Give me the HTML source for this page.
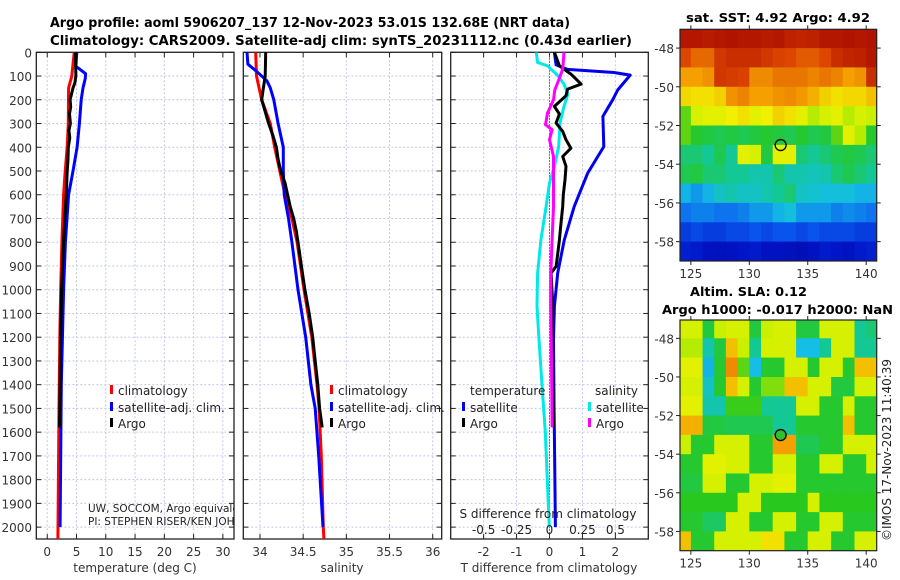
<!DOCTYPE html>
<html><head><meta charset="utf-8"><style>
html,body{margin:0;padding:0;background:#fff;}
svg{display:block;font-family:"DejaVu Sans","Liberation Sans",sans-serif;}
</style></head><body>
<svg id="c" width="900" height="580" viewBox="0 0 900 580" xmlns="http://www.w3.org/2000/svg">
<text x="50" y="27" textLength="520" lengthAdjust="spacingAndGlyphs" font-weight="bold" font-size="13">Argo profile: aoml 5906207_137 12-Nov-2023 53.01S 132.68E (NRT data)</text>
<text x="50" y="45" textLength="582" lengthAdjust="spacingAndGlyphs" font-weight="bold" font-size="13">Climatology: CARS2009. Satellite-adj clim: synTS_20231112.nc (0.43d earlier)</text>
<text x="686" y="22" textLength="184" lengthAdjust="spacingAndGlyphs" font-weight="bold" font-size="12">sat. SST: 4.92 Argo: 4.92</text>
<text x="690" y="296" textLength="117" lengthAdjust="spacingAndGlyphs" font-weight="bold" font-size="12">Altim. SLA: 0.12</text>
<text x="662" y="314" textLength="231" lengthAdjust="spacingAndGlyphs" font-weight="bold" font-size="12">Argo h1000: -0.017 h2000: NaN</text>
<text transform="translate(891,541) rotate(-90)" font-size="12" fill="#222">©IMOS 17-Nov-2023 11:40:39</text>
<g id="g"></g>
</svg>
<script>
// ---- depth axis ----
const depthTicks=[0,100,200,300,400,500,600,700,800,900,1000,1100,1200,1300,1400,1500,1600,1700,1800,1900,2000];
// ---- temperature panel ----
const tTicks=[0,5,10,15,20,25,30];
const tArgoDepth=[0,50,100,130,150,180,200,230,260,300,330,360,400,450,500,600,700,800,900,1000,1200,1400,1580];
const tArgo=[4.83,4.85,4.9,4.7,4.4,4.1,3.9,4.0,3.8,3.95,3.7,3.85,3.6,3.55,3.4,3.25,3.0,2.8,2.6,2.45,2.3,2.2,2.1];
const tClimDepth=[0,100,150,300,400,500,600,800,1000,1200,1500,1800,2050];
const tClim=[4.6,4.2,3.65,3.6,3.4,3.07,2.8,2.5,2.3,2.15,2.0,1.9,1.82];
const tSatDepth=[0,60,70,90,110,150,200,300,400,500,600,800,1000,1400,2000];
const tSat=[5.05,4.9,5.5,6.55,6.5,6.1,5.8,5.5,5.1,4.4,3.65,3.1,2.8,2.4,2.2];
// ---- salinity panel ----
const sTicks=[34,34.5,35,35.5,36];
const sArgoDepth=[0,100,150,200,250,300,350,400,450,500,550,600,650,700,750,800,900,1000,1100,1200,1300,1400,1500,1580];
const sArgo=[34.066,34.06,34.04,34.02,34.06,34.1,34.15,34.19,34.21,34.24,34.29,34.32,34.35,34.39,34.42,34.44,34.48,34.52,34.57,34.61,34.64,34.67,34.69,34.72];
const sClimDepth=[0,100,200,300,400,500,600,700,800,1000,1200,1400,1500,1700,2000,2050];
const sClim=[33.95,33.96,34.02,34.12,34.17,34.23,34.29,34.37,34.43,34.51,34.6,34.66,34.685,34.71,34.733,34.74];
const sSatDepth=[0,50,80,120,150,200,300,400,500,600,700,800,1000,1200,1400,1500,1700,2000];
const sSat=[33.85,33.86,33.96,34.08,34.12,34.16,34.21,34.27,34.27,34.28,34.33,34.37,34.44,34.53,34.59,34.64,34.68,34.73];
// ---- difference panel ----
const dTTicks=[-2,-1,0,1,2];
const dSTicks=[-0.5,-0.25,0,0.25,0.5];
const dSTickLabels=["-0.5","-0.25","0","0.25","0.5"];
const dTSatDepth=[0,53,72,85,96,159,200,270,397,509,650,790,930,1070,1210,1500,2000];
const dTSat=[0.15,0.2,0.55,1.96,2.45,2.07,1.92,1.62,1.65,1.16,0.75,0.45,0.25,0.15,0.12,0.14,0.18];
const dTArgoDepth=[0,57,92,134,155,183,228,260,298,333,368,404,439,480,537,600,650,720,790,850,902,930,1070,1210,1400,1580];
const dTArgo=[0.15,0.3,0.65,0.96,0.55,0.5,0.15,0.3,0.2,0.4,0.5,0.65,0.4,0.5,0.47,0.42,0.4,0.35,0.3,0.25,0.2,0.05,0.1,0.1,0.11,0.12];
const dSSatDepth=[0,43,57,96,134,176,228,298,397,481,551,650,790,930,1070,1210,1400,1600,2000];
const dSSat=[-0.1,-0.09,-0.015,0.06,0.11,0.14,0.11,0.08,0.07,0.037,0,-0.026,-0.065,-0.09,-0.095,-0.08,-0.057,-0.032,-0.0015];
const dSArgoDepth=[0,71,117,159,200,256,305,326,368,439,551,650,790,930,1070,1300,1580];
const dSArgo=[0.11,0.1,0.07,0.04,0.03,-0.015,-0.03,0.02,0,0.03,0.03,0.03,0.02,0.01,0.01,0.015,0.02];
// ---- maps (rows from -47 to -59 lat, cols from 124 to 141 lon, 1 deg cells) ----
const mapLatTicks=[-48,-50,-52,-54,-56,-58];
const mapLonTicks=[125,130,135,140];
const sstGrid=[
[0.95,0.95,0.94,0.95,0.96,0.95,0.95,0.94,0.95,0.93,0.92,0.93,0.95,0.95,0.96,0.95,0.96],
[0.85,0.8,0.8,0.88,0.9,0.9,0.9,0.88,0.86,0.85,0.82,0.82,0.85,0.9,0.92,0.93,0.95],
[0.72,0.72,0.74,0.88,0.87,0.86,0.75,0.75,0.78,0.78,0.78,0.76,0.78,0.76,0.72,0.74,0.9],
[0.65,0.64,0.64,0.66,0.74,0.76,0.72,0.72,0.74,0.75,0.73,0.7,0.66,0.64,0.65,0.65,0.68],
[0.5,0.58,0.6,0.6,0.62,0.64,0.6,0.62,0.66,0.64,0.6,0.55,0.58,0.6,0.55,0.58,0.56],
[0.5,0.46,0.45,0.44,0.45,0.44,0.45,0.46,0.45,0.44,0.46,0.44,0.45,0.5,0.6,0.55,0.46],
[0.42,0.42,0.4,0.44,0.4,0.6,0.58,0.45,0.6,0.6,0.42,0.4,0.42,0.44,0.45,0.44,0.42],
[0.44,0.45,0.42,0.42,0.4,0.4,0.38,0.38,0.42,0.38,0.38,0.37,0.38,0.42,0.44,0.42,0.4],
[0.32,0.3,0.32,0.36,0.38,0.36,0.36,0.38,0.4,0.42,0.36,0.35,0.34,0.34,0.34,0.32,0.32],
[0.27,0.28,0.28,0.27,0.27,0.28,0.3,0.3,0.32,0.34,0.3,0.3,0.3,0.28,0.29,0.28,0.27],
[0.2,0.22,0.2,0.2,0.22,0.22,0.24,0.22,0.24,0.24,0.22,0.24,0.22,0.22,0.22,0.2,0.2],
[0.15,0.14,0.12,0.11,0.12,0.13,0.14,0.12,0.12,0.11,0.1,0.12,0.14,0.13,0.12,0.14,0.15]];
const slaGrid=[
[0.58,0.58,0.45,0.56,0.58,0.58,0.45,0.56,0.58,0.58,0.45,0.45,0.58,0.58,0.58,0.4,0.42],
[0.55,0.55,0.38,0.45,0.68,0.56,0.4,0.58,0.58,0.58,0.33,0.33,0.4,0.58,0.58,0.4,0.4],
[0.6,0.6,0.32,0.46,0.75,0.5,0.33,0.46,0.46,0.58,0.58,0.46,0.58,0.58,0.46,0.68,0.68],
[0.58,0.58,0.36,0.46,0.68,0.58,0.46,0.52,0.52,0.68,0.68,0.58,0.58,0.45,0.45,0.58,0.58],
[0.6,0.6,0.38,0.38,0.48,0.48,0.48,0.4,0.4,0.4,0.58,0.58,0.46,0.46,0.58,0.46,0.46],
[0.7,0.7,0.45,0.45,0.44,0.44,0.44,0.44,0.4,0.4,0.46,0.46,0.46,0.46,0.68,0.46,0.46],
[0.56,0.46,0.46,0.58,0.58,0.58,0.46,0.46,0.72,0.72,0.44,0.44,0.46,0.46,0.58,0.58,0.58],
[0.46,0.46,0.6,0.6,0.58,0.58,0.46,0.46,0.58,0.58,0.46,0.46,0.58,0.58,0.46,0.46,0.58],
[0.45,0.45,0.58,0.58,0.46,0.46,0.58,0.58,0.6,0.6,0.46,0.46,0.46,0.46,0.46,0.46,0.46],
[0.47,0.47,0.47,0.47,0.47,0.58,0.58,0.47,0.47,0.47,0.47,0.58,0.47,0.47,0.47,0.47,0.47],
[0.46,0.46,0.43,0.43,0.58,0.58,0.46,0.46,0.58,0.58,0.46,0.46,0.58,0.58,0.46,0.46,0.46],
[0.68,0.46,0.46,0.58,0.58,0.58,0.58,0.64,0.64,0.46,0.46,0.58,0.58,0.46,0.46,0.58,0.58]];
const argoLon=132.68, argoLat=-53.01;

const NS="http://www.w3.org/2000/svg";
const G=document.getElementById('g');
function mk(tag,attrs,parent){const e=document.createElementNS(NS,tag);for(const k in attrs)e.setAttribute(k,attrs[k]);(parent||G).appendChild(e);return e;}
const yTop=52.3, yBot=539, dMax=2050;
const yD=d=>yTop+(d/dMax)*(yBot-yTop);
function lin(d0,d1,r0,r1){return v=>r0+(v-d0)/(d1-d0)*(r1-r0);}
const panels=[
 {x0:36.3,x1:234,sc:lin(-1.87,31.9,36.3,234),ticks:tTicks,name:'temperature-panel'},
 {x0:243.3,x1:441.7,sc:lin(33.807,36.104,243.3,441.7),ticks:sTicks,name:'salinity-panel'},
 {x0:450.7,x1:648.3,sc:lin(-3,3,450.7,648.3),ticks:dTTicks,name:'difference-panel'}];
panels.forEach((p,i)=>{
 const grp=mk('g',{});
 
 
 const cp=mk('clipPath',{id:'cp'+i},grp);mk('rect',{x:p.x0,y:yTop,width:p.x1-p.x0,height:yBot-yTop},cp);
 depthTicks.forEach(d=>{const l=mk('line',{x1:p.x0,x2:p.x1,y1:yD(d),y2:yD(d),stroke:'#c4c8e6','stroke-width':1,'stroke-dasharray':'2,2'},grp);
  
  mk('line',{x1:p.x0,x2:p.x0+5,y1:yD(d),y2:yD(d),stroke:'#222'},grp);mk('line',{x1:p.x1-5,x2:p.x1,y1:yD(d),y2:yD(d),stroke:'#222'},grp);});
 p.ticks.forEach(t=>{const x=p.sc(t);const l=mk('line',{x1:x,x2:x,y1:yTop,y2:yBot,stroke:'#c4c8e6','stroke-width':1,'stroke-dasharray':'2,2'},grp);
  
  mk('line',{x1:x,x2:x,y1:yBot,y2:yBot-5,stroke:'#222'},grp);mk('line',{x1:x,x2:x,y1:yTop,y2:yTop+5,stroke:'#222'},grp);
  const tx=mk('text',{x:x,y:556,'text-anchor':'middle','font-size':12,fill:'#333'},grp);tx.textContent=String(t);
  });
 const fr=mk('rect',{x:p.x0,y:yTop,width:p.x1-p.x0,height:yBot-yTop,fill:'none',stroke:'#222','stroke-width':1.3},grp);
 
 p.grp=grp;
});
depthTicks.forEach(d=>{const t=mk('text',{x:32,y:yD(d)+5,'text-anchor':'end','font-size':12,fill:'#333'});t.textContent=String(d);
 });
[['temperature (deg C)',135,'temperature-axis-title'],['salinity',342,'salinity-axis-title'],['T difference from climatology',549,'t-difference-axis-title']].forEach(a=>{
 const t=mk('text',{x:a[1],y:572,'text-anchor':'middle','font-size':12,fill:'#333'});t.textContent=a[0];
 });

function line(pi,sc,depths,vals,color,w,name,dash){
 const pts=depths.map((d,i)=>sc(vals[i]).toFixed(1)+','+yD(d).toFixed(1)).join(' ');
 const a={points:pts,fill:'none',stroke:color,'stroke-width':w,'stroke-linejoin':'round','clip-path':'url(#cp'+pi+')'};
 if(dash)a['stroke-dasharray']=dash;
 const pl=mk('polyline',a,panels[pi].grp);
 }
const p0=panels[0].sc,p1=panels[1].sc,p2=panels[2].sc,pS=v=>p2(v*4);
line(0,p0,tClimDepth,tClim,'#ff0000',3,'temperature-climatology-line');
line(0,p0,tSatDepth,tSat,'#0000ff',3,'temperature-satellite-line');
line(0,p0,tArgoDepth,tArgo,'#000',3,'temperature-argo-line');
line(1,p1,sClimDepth,sClim,'#ff0000',3,'salinity-climatology-line');
line(1,p1,sSatDepth,sSat,'#0000ff',3,'salinity-satellite-line');
line(1,p1,sArgoDepth,sArgo,'#000',3,'salinity-argo-line');
line(2,p2,[0,2050],[0,0],'#555',1,'zero-reference-line','1.5,1.5');
line(2,pS,dSSatDepth,dSSat,'#00e8e8',3,'salinity-satellite-difference-line');
line(2,p2,dTSatDepth,dTSat,'#0000ee',3,'temperature-satellite-difference-line');
line(2,p2,dTArgoDepth,dTArgo,'#000',3,'temperature-argo-difference-line');
line(2,pS,dSArgoDepth,dSArgo,'#ff00ff',3,'salinity-argo-difference-line');

// legends
function legend(x,y,color,label,name){const r=mk('rect',{x:x,y:y-7,width:3,height:9,fill:color});
 
 const t=mk('text',{x:x+8,y:y+3,'font-size':12,fill:'#222'});t.textContent=label;
 return t;}
[[110,0],[330,1]].forEach(([x,pi])=>{
 legend(x,392,'#ff0000','climatology','legend-climatology');
 legend(x,409,'#0000ff','satellite-adj. clim.','legend-satellite-adj');
 legend(x,425,'#000','Argo','legend-argo');});
const tl=mk('text',{x:470,y:395,'font-size':12,fill:'#222'});tl.textContent='temperature';

const sl=mk('text',{x:595,y:395,'font-size':12,fill:'#222'});sl.textContent='salinity';

legend(462,409,'#0000ff','satellite','legend-temperature-satellite');
legend(462,425,'#000','Argo','legend-temperature-argo');
legend(588,409,'#00e8e8','satellite','legend-salinity-satellite');
legend(588,425,'#ff00ff','Argo','legend-salinity-argo');
// notes in T panel
const n1=mk('text',{x:88,y:512,'font-size':10.5,fill:'#222','clip-path':'url(#cp0)'});n1.textContent='UW, SOCCOM, Argo equivalent';

const n2=mk('text',{x:88,y:525,'font-size':10.5,fill:'#222','clip-path':'url(#cp0)'});n2.textContent='PI: STEPHEN RISER/KEN JOHNSON';

// S axis inside diff panel
const st=mk('text',{x:548,y:518,'text-anchor':'middle','font-size':12,fill:'#222'});st.textContent='S difference from climatology';

dSTicks.forEach((v,i)=>{const t=mk('text',{x:pS(v),y:534,'text-anchor':'middle','font-size':12,fill:'#222'});t.textContent=dSTickLabels[i];
 });

// maps
const stops=[[0,[0,0,127]],[0.13,[0,20,200]],[0.25,[10,90,240]],[0.33,[20,190,230]],[0.4,[20,200,150]],[0.47,[40,200,30]],[0.56,[200,240,0]],[0.62,[240,240,0]],[0.72,[245,160,0]],[0.85,[220,70,0]],[1,[160,0,0]]];
function cmap(v){for(let i=1;i<stops.length;i++){if(v<=stops[i][0]){const a=stops[i-1],b=stops[i];const f=(v-a[0])/(b[0]-a[0]);
 const c=a[1].map((x,k)=>Math.round(x+(b[1][k]-x)*f));return 'rgb('+c.join(',')+')';}}return 'rgb(160,0,0)';}
function drawMap(grid,y0,y1,name,latTop,latBot,circleFill){
 const x0=680,x1=876.7,lonL=124.07,lonR=140.9;
 const X=lin(lonL,lonR,x0,x1),Y=lin(latTop,latBot,y0,y1);
 const grp=mk('g',{});
 const cid='cm'+name;const cp=mk('clipPath',{id:cid},grp);mk('rect',{x:x0,y:y0,width:x1-x0,height:y1-y0},cp);
 const cells=mk('g',{'clip-path':'url(#'+cid+')'},grp);
 grid.forEach((row,r)=>row.forEach((v,c)=>{const lon=124+c,lat=-47-r;
  const xa=X(lon),xb=X(lon+1),ya=Y(lat),yb=Y(lat-1);
  const rc=mk('rect',{x:xa.toFixed(1),y:ya.toFixed(1),width:(xb-xa+0.6).toFixed(1),height:(yb-ya+0.6).toFixed(1),fill:cmap(v)},cells);
  }));
 const fr=mk('rect',{x:x0,y:y0,width:x1-x0,height:y1-y0,fill:'none',stroke:'#222','stroke-width':1.2},grp);
 
 mapLatTicks.forEach(l=>{const y=Y(l);mk('line',{x1:x0-4,x2:x0,y1:y,y2:y,stroke:'#222'},grp);mk('line',{x1:x1,x2:x1+4,y1:y,y2:y,stroke:'#222'},grp);
  const t=mk('text',{x:x0-6,y:y+5,'text-anchor':'end','font-size':12,fill:'#333'},grp);t.textContent=String(l);
  });
 mapLonTicks.forEach(l=>{const x=X(l);mk('line',{x1:x,x2:x,y1:y1,y2:y1+4,stroke:'#222'},grp);mk('line',{x1:x,x2:x,y1:y0-4,y2:y0,stroke:'#222'},grp);
  const t=mk('text',{x:x,y:y1+17,'text-anchor':'middle','font-size':12,fill:'#333'},grp);t.textContent=String(l);
  });
 const c=mk('circle',{cx:X(argoLon),cy:Y(argoLat),r:5.5,fill:circleFill,stroke:'#000','stroke-width':1.3},grp);
 }
drawMap(sstGrid,29.3,261,'sst-map',-47.03,-59.0,'none');
drawMap(slaGrid,320,550.7,'sla-map',-47.05,-59.0,'#30c030');
</script>
</body></html>
